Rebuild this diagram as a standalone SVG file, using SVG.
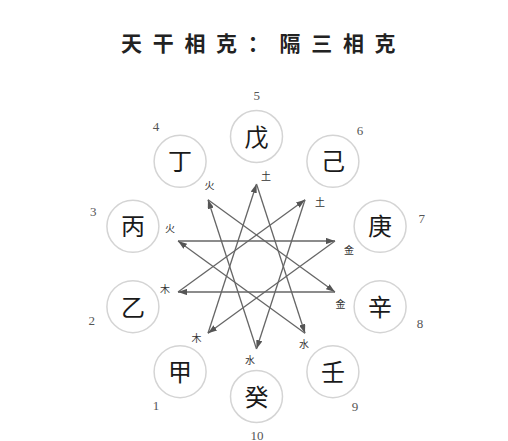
<svg xmlns="http://www.w3.org/2000/svg" width="508" height="441" viewBox="0 0 508 441">
<style>
.title{font-family:"Noto Sans CJK SC","Noto Sans CJK JP",sans-serif;font-size:21px;font-weight:bold;fill:#222;letter-spacing:10.7px}
.node circle{fill:#fff;stroke:#d4d4d4;stroke-width:1.5}
.node text.stem{font-family:"Noto Sans CJK SC","Noto Sans CJK JP",sans-serif;font-size:24px;fill:#1a1a1a;text-anchor:middle}
.num{font-family:"Liberation Serif",serif;font-size:13px;fill:#555;text-anchor:middle}
.el{font-family:"Noto Sans CJK SC","Noto Sans CJK JP",sans-serif;font-size:10px;fill:#333;text-anchor:middle}
.conn line{stroke:#666;stroke-width:1.3;marker-end:url(#ah)}
</style>
<defs>
<marker id="ah" viewBox="0 0 10 7" refX="10" refY="3.5" markerWidth="9" markerHeight="6.3" markerUnits="userSpaceOnUse" orient="auto">
<path d="M0,0 L10,3.5 L0,7 z" fill="#555"/>
</marker>
</defs>
<rect width="508" height="441" fill="#fff"/>
<text class="title" x="121" y="51">天干相克：隔三相克</text>

<g id="connectors" class="conn">
<line x1="208" y1="333.2" x2="256.5" y2="184"/>
<line x1="178" y1="292" x2="305" y2="199.8"/>
<line x1="178" y1="241" x2="335" y2="241"/>
<line x1="208" y1="199.8" x2="335" y2="292"/>
<line x1="256.5" y1="184" x2="305" y2="333.2"/>
<line x1="305" y1="199.8" x2="256.5" y2="349"/>
<line x1="335" y1="241" x2="208" y2="333.2"/>
<line x1="335" y1="292" x2="178" y2="292"/>
<line x1="305" y1="333.2" x2="178" y2="241"/>
<line x1="256.5" y1="349" x2="208" y2="199.8"/>
</g>

<g id="elements">
<text class="el" x="266" y="180">土</text>
<text class="el" x="320" y="206">土</text>
<text class="el" x="349" y="254">金</text>
<text class="el" x="340.5" y="307.5">金</text>
<text class="el" x="304" y="348">水</text>
<text class="el" x="250" y="364">水</text>
<text class="el" x="196.5" y="342">木</text>
<text class="el" x="165" y="293">木</text>
<text class="el" x="170" y="232">火</text>
<text class="el" x="209.5" y="189">火</text>
</g>

<g id="node1" class="node"><circle cx="180.1" cy="371.7" r="26"/><text class="stem" x="180.1" y="380.7">甲</text><text class="num" x="156" y="410">1</text></g>
<g id="node2" class="node"><circle cx="132.9" cy="306.7" r="26"/><text class="stem" x="132.9" y="315.7">乙</text><text class="num" x="91.7" y="324.5">2</text></g>
<g id="node3" class="node"><circle cx="132.9" cy="226.3" r="26"/><text class="stem" x="132.9" y="235.3">丙</text><text class="num" x="93.3" y="216.2">3</text></g>
<g id="node4" class="node"><circle cx="180.1" cy="161.3" r="26"/><text class="stem" x="180.1" y="170.3">丁</text><text class="num" x="156" y="131.2">4</text></g>
<g id="node5" class="node"><circle cx="256.5" cy="136.5" r="26"/><text class="stem" x="256.5" y="145.5">戊</text><text class="num" x="256.7" y="99.5">5</text></g>
<g id="node6" class="node"><circle cx="332.9" cy="161.3" r="26"/><text class="stem" x="332.9" y="170.3">己</text><text class="num" x="360" y="134.5">6</text></g>
<g id="node7" class="node"><circle cx="380.1" cy="226.3" r="26"/><text class="stem" x="380.1" y="235.3">庚</text><text class="num" x="421.7" y="222.5">7</text></g>
<g id="node8" class="node"><circle cx="380.1" cy="306.7" r="26"/><text class="stem" x="380.1" y="315.7">辛</text><text class="num" x="420" y="327.8">8</text></g>
<g id="node9" class="node"><circle cx="332.9" cy="371.7" r="26"/><text class="stem" x="332.9" y="380.7">壬</text><text class="num" x="355" y="411.2">9</text></g>
<g id="node10" class="node"><circle cx="256.5" cy="396.5" r="26"/><text class="stem" x="256.5" y="405.5">癸</text><text class="num" x="257" y="439.5">10</text></g>
</svg>
